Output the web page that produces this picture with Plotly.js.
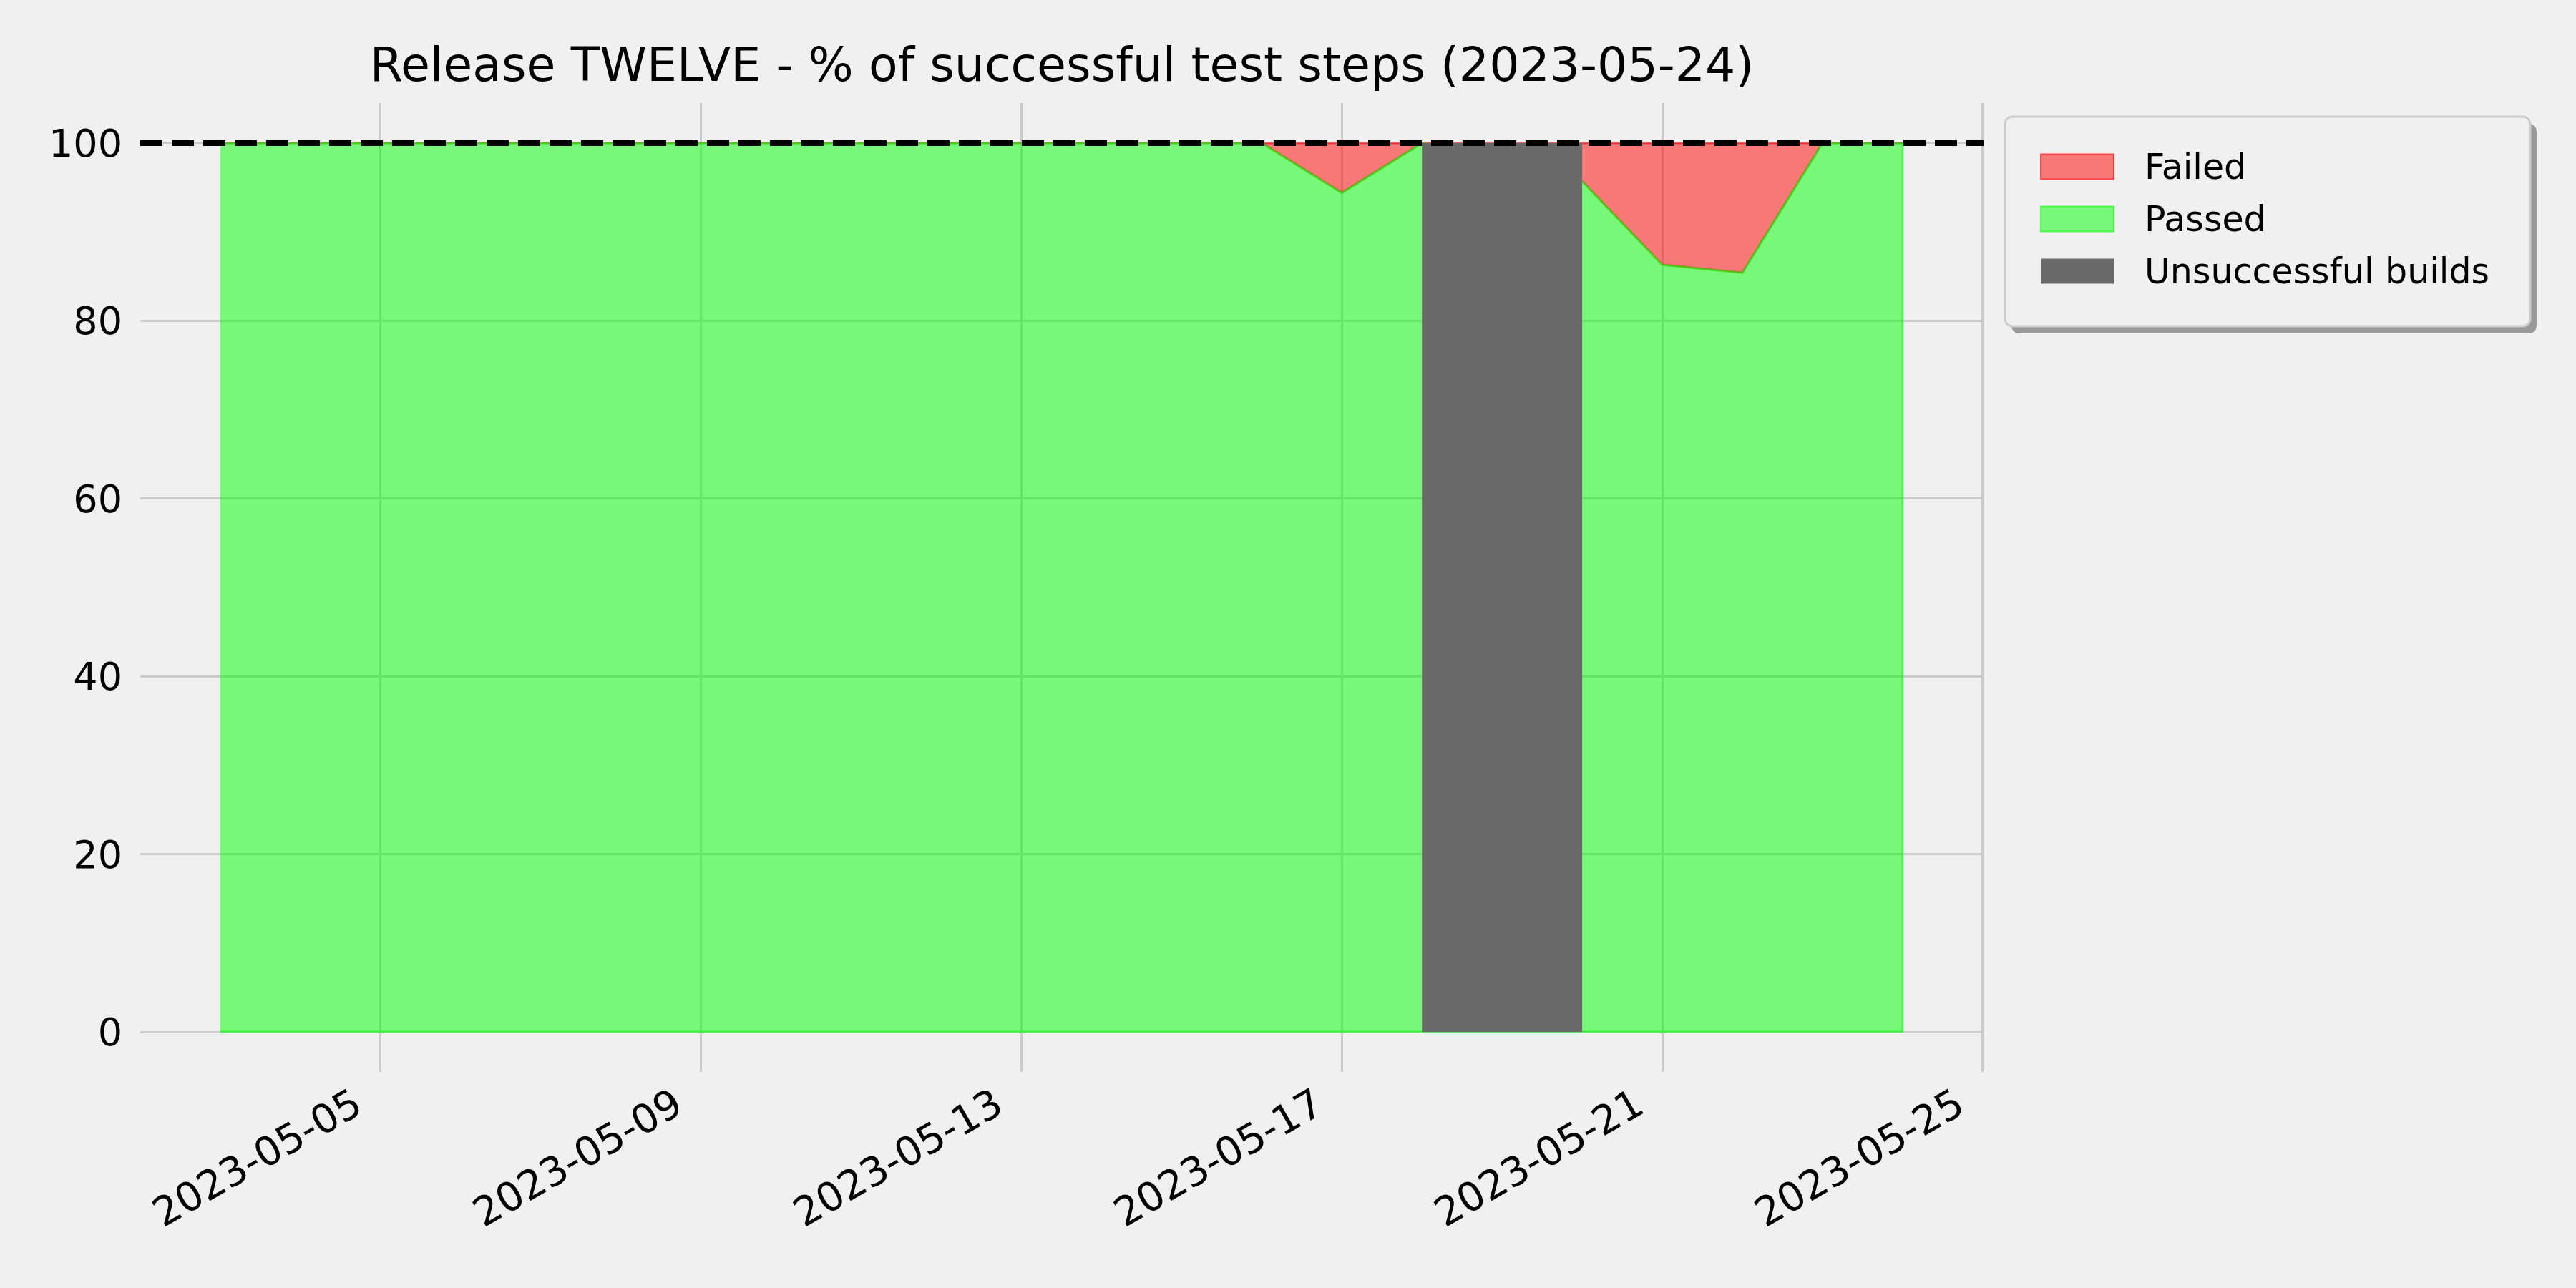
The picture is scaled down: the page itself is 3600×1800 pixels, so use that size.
<!DOCTYPE html>
<html><head><meta charset="utf-8">
<script src="https://cdn.plot.ly/plotly-3.0.1.min.js"></script>
<style>html,body{margin:0;padding:0;background:#f0f0f0}</style>
</head><body><div id="chart" style="width:3600px;height:1800px"></div>
<script>
// ---- data ----
const dates = ['2023-05-03','2023-05-04','2023-05-05','2023-05-06','2023-05-07','2023-05-08','2023-05-09',
  '2023-05-10','2023-05-11','2023-05-12','2023-05-13','2023-05-14','2023-05-15','2023-05-16','2023-05-17',
  '2023-05-18','2023-05-20','2023-05-21','2023-05-22','2023-05-23','2023-05-24'];
const passed = [100,100,100,100,100,100,100,100,100,100,100,100,100,100,94.4,100,95.7,86.3,85.4,100,100];
const failed = [0,0,0,0,0,0,0,0,0,0,0,0,0,0,5.6,0,4.3,13.7,14.6,0,0];
const unsuccessfulDays = ['2023-05-18','2023-05-19'];
const tickDates = ['2023-05-05','2023-05-09','2023-05-13','2023-05-17','2023-05-21','2023-05-25'];
const yTicks = [0,20,40,60,80,100];
const targetLine = 100;
const legendLabels = ['Failed','Passed','Unsuccessful builds'];
const titleText = 'Release TWELVE - % of successful test steps (2023-05-24)';

// ---- styling ----
const FONT = 'DejaVu Sans';
const W = 3600, H = 1800;
const M = {l:196, r:828, t:144, b:302};
const PW = W - M.l - M.r, PH = H - M.t - M.b;
const GREEN = 'rgba(0,255,0,0.5)', RED = 'rgba(255,0,0,0.5)', GRAY = '#696969';

// ---- traces built from data ----
const rev = a => a.slice().reverse();
const upper = passed.map((p,i)=>p+failed[i]);
const failedTrace = {
  type:'scatter', mode:'lines', name:legendLabels[0], showlegend:false,
  x: dates.concat(rev(dates)), y: upper.concat(rev(passed)),
  fill:'toself', fillcolor:RED, line:{color:RED, width:3}, hoverinfo:'skip'
};
const passedTrace = {
  type:'scatter', mode:'lines', name:legendLabels[1], showlegend:false,
  x: dates.concat(rev(dates)), y: passed.concat(dates.map(()=>0)),
  fill:'toself', fillcolor:GREEN, line:{color:GREEN, width:3}, hoverinfo:'skip'
};
const dayMs = 86400000;
const uStart = unsuccessfulDays[0];
const uEnd = new Date(new Date(unsuccessfulDays[unsuccessfulDays.length-1]+'T00:00:00Z').getTime()+dayMs).toISOString().slice(0,10);
const unsTrace = {
  type:'scatter', mode:'lines', name:legendLabels[2], showlegend:false,
  x:[uStart,uStart,uEnd,uEnd,uStart], y:[0,targetLine,targetLine,0,0],
  fill:'toself', fillcolor:GRAY, line:{color:GRAY, width:0}, hoverinfo:'skip'
};

// ---- manual legend (matplotlib-like) ----
const px = x => (x - M.l)/PW;
const py = y => (M.t + PH - y)/PH;
function rrect(x0,y0,x1,y1,r){
  const rx=r/PW, ry=r/PH;
  const X0=px(x0),X1=px(x1),Y0=py(y0),Y1=py(y1);
  return `M${X0+rx},${Y0} L${X1-rx},${Y0} Q${X1},${Y0} ${X1},${Y0-ry} L${X1},${Y1+ry} Q${X1},${Y1} ${X1-rx},${Y1} L${X0+rx},${Y1} Q${X0},${Y1} ${X0},${Y1+ry} L${X0},${Y0-ry} Q${X0},${Y0} ${X0+rx},${Y0} Z`;
}
const box = {x0:2802, y0:163, x1:3536, y1:456};
const shapes = [
  {type:'line', xref:'paper', yref:'y', x0:0, x1:1, y0:targetLine, y1:targetLine, layer:'above',
   line:{color:'#000000', width:8, dash:'31px,13px'}},
  {type:'path', xref:'paper', yref:'paper', layer:'above', path:rrect(box.x0+9,box.y0+10,box.x1+9,box.y1+10,12),
   fillcolor:'#999999', line:{width:0}},
  {type:'path', xref:'paper', yref:'paper', layer:'above', path:rrect(box.x0,box.y0,box.x1,box.y1,12),
   fillcolor:'#f0f0f0', line:{color:'#cccccc', width:3}}
];
const legendColors = [[RED,'rgba(255,40,40,0.8)'],[GREEN,'rgba(40,255,40,0.8)'],[GRAY,GRAY]];
const rowY = [233,306,379];
const annotations = [];
legendLabels.forEach((lab,i)=>{
  shapes.push({type:'rect', xref:'paper', yref:'paper', layer:'above',
    x0:px(2852), x1:px(2954), y0:py(rowY[i]-17.5), y1:py(rowY[i]+17.5),
    fillcolor:legendColors[i][0], line:{color:legendColors[i][1], width: i<2?2:0}});
  annotations.push({xref:'paper', yref:'paper', x:px(2995), y:py(rowY[i]), xanchor:'left', yanchor:'middle',
    text:lab, showarrow:false, font:{family:FONT, size:49, color:'#000'}});
});

const layout = {
  width:W, height:H, margin:M,
  paper_bgcolor:'#f0f0f0', plot_bgcolor:'#f0f0f0',
  title:{text:titleText, font:{family:FONT, size:66.5, color:'#000'}, x:0.5, xref:'paper', xanchor:'center',
    y:1-90/H, yref:'container', yanchor:'middle'},
  xaxis:{type:'date', range:['2023-05-02 00:00','2023-05-25 00:15'], tickvals:tickDates, tickformat:'%Y-%m-%d',
    tickangle:-30, showgrid:true, gridcolor:'#cbcbcb', gridwidth:3, zeroline:false, showline:false, ticks:'',
    tickfont:{family:FONT, size:56, color:'#000'}, ticklabelstandoff:2, ticklabelshift:-36, fixedrange:true},
  yaxis:{range:[-4.5,104.5], tickvals:yTicks, showgrid:true, gridcolor:'#cbcbcb', gridwidth:3, zeroline:false,
    showline:false, ticks:'', tickfont:{family:FONT, size:54, color:'#000'}, ticklabelstandoff:24, fixedrange:true},
  showlegend:false, shapes:shapes, annotations:annotations
};
Plotly.newPlot('chart',[failedTrace, passedTrace, unsTrace], layout, {displayModeBar:false, staticPlot:true});
</script></body></html>
